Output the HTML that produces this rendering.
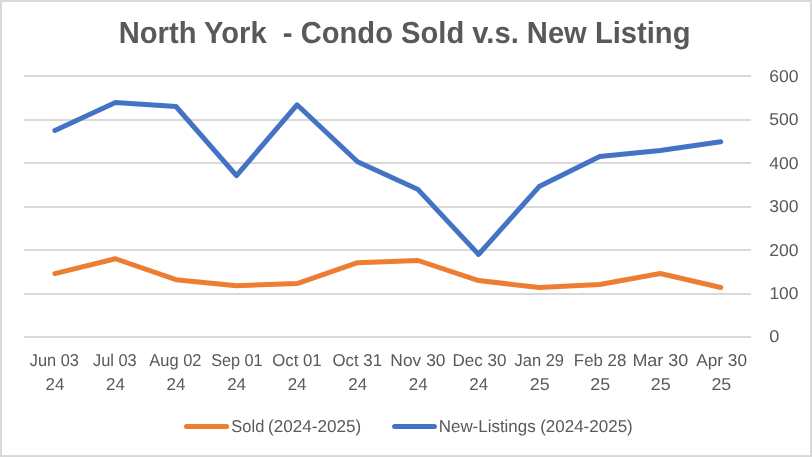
<!DOCTYPE html>
<html>
<head>
<meta charset="utf-8">
<title>North York - Condo Sold v.s. New Listing</title>
<style>
html,body{margin:0;padding:0;background:#fff;}
body{width:812px;height:457px;overflow:hidden;}
svg{display:block;will-change:transform;}
text{font-family:"Liberation Sans",sans-serif;fill:#595959;text-rendering:geometricPrecision;}
</style>
</head>
<body>
<svg width="812" height="457" viewBox="0 0 812 457">
<rect x="0" y="0" width="812" height="457" fill="#ffffff"/>
<rect x="1" y="1" width="810" height="455" fill="none" stroke="#d9d9d9" stroke-width="2"/>
<rect x="24" y="336" width="727" height="2" fill="#d9d9d9"/>
<rect x="24" y="293" width="727" height="2" fill="#d9d9d9"/>
<rect x="24" y="249" width="727" height="2" fill="#d9d9d9"/>
<rect x="24" y="206" width="727" height="2" fill="#d9d9d9"/>
<rect x="24" y="162" width="727" height="2" fill="#d9d9d9"/>
<rect x="24" y="119" width="727" height="2" fill="#d9d9d9"/>
<rect x="24" y="75" width="727" height="2" fill="#d9d9d9"/>
<path d="M54.89,273.56 L115.42,258.76 L175.96,279.64 L236.49,285.74 L297.03,283.56 L357.56,262.68 L418.09,260.50 L478.62,280.51 L539.16,287.48 L599.69,284.43 L660.23,273.56 L720.76,287.48" fill="none" stroke="#ed7d31" stroke-width="5" stroke-linecap="round" stroke-linejoin="round"/>
<path d="M54.89,130.44 L115.42,102.60 L175.96,106.51 L236.49,175.68 L297.03,104.78 L357.56,161.76 L418.09,189.60 L478.62,254.42 L539.16,186.56 L599.69,156.54 L660.23,150.45 L720.76,141.75" fill="none" stroke="#4472c4" stroke-width="5" stroke-linecap="round" stroke-linejoin="round"/>
<text x="118.73" y="43.00" font-size="30.4" font-weight="bold" textLength="571.72" lengthAdjust="spacingAndGlyphs" xml:space="preserve">North York  - Condo Sold v.s. New Listing</text>
<text x="769.15" y="342.45" font-size="17.2" textLength="10.09" lengthAdjust="spacingAndGlyphs" xml:space="preserve">0</text>
<text x="769.44" y="299.00" font-size="17.2" textLength="28.98" lengthAdjust="spacingAndGlyphs" xml:space="preserve">100</text>
<text x="769.15" y="255.55" font-size="17.2" textLength="29.27" lengthAdjust="spacingAndGlyphs" xml:space="preserve">200</text>
<text x="769.15" y="212.10" font-size="17.2" textLength="29.27" lengthAdjust="spacingAndGlyphs" xml:space="preserve">300</text>
<text x="769.15" y="168.65" font-size="17.2" textLength="29.27" lengthAdjust="spacingAndGlyphs" xml:space="preserve">400</text>
<text x="769.15" y="125.20" font-size="17.2" textLength="29.27" lengthAdjust="spacingAndGlyphs" xml:space="preserve">500</text>
<text x="769.15" y="81.75" font-size="17.2" textLength="29.27" lengthAdjust="spacingAndGlyphs" xml:space="preserve">600</text>
<text x="29.85" y="366.40" font-size="17.2" textLength="49.03" lengthAdjust="spacingAndGlyphs" xml:space="preserve">Jun 03</text>
<text x="45.54" y="389.80" font-size="17.2" textLength="18.86" lengthAdjust="spacingAndGlyphs" xml:space="preserve">24</text>
<text x="92.95" y="366.40" font-size="17.2" textLength="43.83" lengthAdjust="spacingAndGlyphs" xml:space="preserve">Jul 03</text>
<text x="106.07" y="389.80" font-size="17.2" textLength="18.86" lengthAdjust="spacingAndGlyphs" xml:space="preserve">24</text>
<text x="149.35" y="366.40" font-size="17.2" textLength="52.13" lengthAdjust="spacingAndGlyphs" xml:space="preserve">Aug 02</text>
<text x="166.61" y="389.80" font-size="17.2" textLength="18.86" lengthAdjust="spacingAndGlyphs" xml:space="preserve">24</text>
<text x="211.15" y="366.40" font-size="17.2" textLength="51.43" lengthAdjust="spacingAndGlyphs" xml:space="preserve">Sep 01</text>
<text x="227.14" y="389.80" font-size="17.2" textLength="18.86" lengthAdjust="spacingAndGlyphs" xml:space="preserve">24</text>
<text x="272.25" y="366.40" font-size="17.2" textLength="49.45" lengthAdjust="spacingAndGlyphs" xml:space="preserve">Oct 01</text>
<text x="287.68" y="389.80" font-size="17.2" textLength="18.86" lengthAdjust="spacingAndGlyphs" xml:space="preserve">24</text>
<text x="332.55" y="366.40" font-size="17.2" textLength="49.45" lengthAdjust="spacingAndGlyphs" xml:space="preserve">Oct 31</text>
<text x="348.21" y="389.80" font-size="17.2" textLength="18.86" lengthAdjust="spacingAndGlyphs" xml:space="preserve">24</text>
<text x="390.34" y="366.40" font-size="17.2" textLength="55.18" lengthAdjust="spacingAndGlyphs" xml:space="preserve">Nov 30</text>
<text x="408.74" y="389.80" font-size="17.2" textLength="18.86" lengthAdjust="spacingAndGlyphs" xml:space="preserve">24</text>
<text x="452.46" y="366.40" font-size="17.2" textLength="54.15" lengthAdjust="spacingAndGlyphs" xml:space="preserve">Dec 30</text>
<text x="469.28" y="389.80" font-size="17.2" textLength="18.86" lengthAdjust="spacingAndGlyphs" xml:space="preserve">24</text>
<text x="514.55" y="366.40" font-size="17.2" textLength="49.44" lengthAdjust="spacingAndGlyphs" xml:space="preserve">Jan 29</text>
<text x="529.81" y="389.80" font-size="17.2" textLength="19.88" lengthAdjust="spacingAndGlyphs" xml:space="preserve">25</text>
<text x="573.87" y="366.40" font-size="17.2" textLength="52.43" lengthAdjust="spacingAndGlyphs" xml:space="preserve">Feb 28</text>
<text x="590.34" y="389.80" font-size="17.2" textLength="19.88" lengthAdjust="spacingAndGlyphs" xml:space="preserve">25</text>
<text x="632.40" y="366.40" font-size="17.2" textLength="55.93" lengthAdjust="spacingAndGlyphs" xml:space="preserve">Mar 30</text>
<text x="650.87" y="389.80" font-size="17.2" textLength="19.88" lengthAdjust="spacingAndGlyphs" xml:space="preserve">25</text>
<text x="696.25" y="366.40" font-size="17.2" textLength="50.76" lengthAdjust="spacingAndGlyphs" xml:space="preserve">Apr 30</text>
<text x="711.41" y="389.80" font-size="17.2" textLength="19.88" lengthAdjust="spacingAndGlyphs" xml:space="preserve">25</text>
<text x="231.35" y="432.20" font-size="17.2" textLength="32.94" lengthAdjust="spacingAndGlyphs" xml:space="preserve">Sold</text>
<text x="267.95" y="432.20" font-size="17.2" textLength="93.22" lengthAdjust="spacingAndGlyphs" xml:space="preserve">(2024-2025)</text>
<text x="438.77" y="432.20" font-size="17.2" textLength="96.87" lengthAdjust="spacingAndGlyphs" xml:space="preserve">New-Listings</text>
<text x="540.16" y="432.20" font-size="17.2" textLength="92.60" lengthAdjust="spacingAndGlyphs" xml:space="preserve">(2024-2025)</text>
<line x1="186.5" y1="426.5" x2="226.6" y2="426.5" stroke="#ed7d31" stroke-width="5" stroke-linecap="round"/>
<line x1="394.6" y1="426.5" x2="434.4" y2="426.5" stroke="#4472c4" stroke-width="5" stroke-linecap="round"/>
</svg>
</body>
</html>
